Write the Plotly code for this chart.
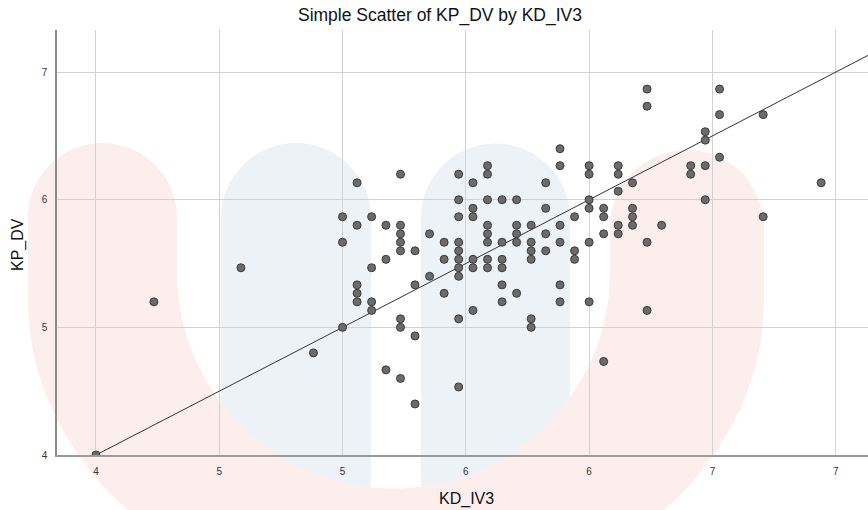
import numpy as np
import plotly.graph_objects as go

# ---------------- data ----------------
kd_iv3 = [
    4.000, 4.235, 4.588,
    5.059, 5.235, 5.471, 5.529, 5.471, 5.529, 5.000, 5.118, 5.471, 5.529,
    5.059, 5.176, 5.235, 5.235, 5.353, 5.235, 5.000, 5.412, 5.471, 5.235,
    5.294, 5.471, 5.176, 5.412, 5.471, 5.529, 5.118, 5.471, 5.529, 5.353, 5.471,
    5.059, 5.294, 5.059, 5.412, 5.059, 5.118, 5.118, 5.529, 5.235, 5.471,
    5.000, 5.235, 4.882, 5.294, 5.176, 5.235, 5.471, 5.294,
    6.235, 6.235, 6.529, 6.529, 6.706, 6.471, 6.471, 6.529, 5.882, 5.882,
    6.000, 6.000, 6.118, 6.118, 6.176, 6.118, 6.000, 6.412, 6.412, 6.471,
    6.471, 6.941,
    6.706, 6.294, 6.235, 6.235,
    5.588, 5.588, 5.824, 5.588, 5.647, 5.706, 5.824, 6.059, 6.000, 6.176,
    6.176, 6.059, 5.941, 5.588, 5.706, 5.765, 5.882, 6.118, 6.176, 5.588,
    5.706, 5.824, 6.059, 6.118, 5.588, 5.647, 5.706, 5.765, 5.882, 6.000,
    5.765, 5.824, 5.941, 5.588, 5.647, 5.765, 5.941, 5.588, 5.647,
    5.647, 5.882, 5.706, 5.647, 5.882, 6.000, 5.765, 5.765, 6.059,
]
kp_dv = [
    4.000, 5.200, 5.467,
    6.133, 6.200, 6.200, 6.133, 6.000, 5.933, 5.867, 5.867, 5.867, 5.867,
    5.800, 5.800, 5.800, 5.733, 5.733, 5.667, 5.667, 5.667, 5.667, 5.600,
    5.600, 5.600, 5.533, 5.533, 5.533, 5.533, 5.467, 5.467, 5.467, 5.400, 5.400,
    5.333, 5.333, 5.267, 5.267, 5.200, 5.200, 5.133, 5.133, 5.067, 5.067,
    5.000, 5.000, 4.800, 4.933, 4.667, 4.600, 4.533, 4.400,
    6.867, 6.733, 6.867, 6.667, 6.667, 6.533, 6.467, 6.333, 6.400, 6.267,
    6.267, 6.200, 6.267, 6.200, 6.133, 6.067, 6.000, 6.267, 6.200, 6.267,
    6.000, 6.133,
    5.867, 5.800, 5.667, 5.133,
    6.267, 6.200, 6.133, 6.000, 6.000, 6.000, 5.933, 5.933, 5.933, 5.933,
    5.867, 5.867, 5.867, 5.800, 5.800, 5.800, 5.800, 5.800, 5.800, 5.733,
    5.733, 5.733, 5.733, 5.733, 5.667, 5.667, 5.667, 5.667, 5.667, 5.667,
    5.600, 5.600, 5.600, 5.533, 5.533, 5.533, 5.533, 5.467, 5.467,
    5.333, 5.333, 5.267, 5.200, 5.200, 5.200, 5.067, 5.000, 4.733,
]
x_tickvals = [4.0, 4.5, 5.0, 5.5, 6.0, 6.5, 7.0]
x_ticktext = ["4", "5", "5", "6", "6", "7", "7"]
y_tickvals = [4, 5, 6, 7]
y_ticktext = ["4", "5", "6", "7"]
fit_slope = 1.0
fit_intercept = 0.0

# ---------------- layout geometry ----------------
W, H = 868, 510
ML, MR, MT, MB = 57, 0, 30, 55
x_range = [3.842, 7.131]
y_range = [4.0, 7.33]
PW = W - ML - MR
PH = H - MT - MB
FONT = "Liberation Sans, Arial, sans-serif"


def to_paper(pts):
    return [((px - ML) / PW, (H - MB - py) / PH) for px, py in pts]


def arc(cx, cy, rx, ry, a0, a1, n=60):
    t = np.linspace(a0, a1, n)
    return [(cx + rx * np.cos(a), cy + ry * np.sin(a)) for a in t]


def path_str(pts):
    pp = to_paper(pts)
    s = "M %.5f,%.5f " % pp[0]
    s += " ".join("L %.5f,%.5f" % p for p in pp[1:])
    return s + " Z"


# watermark (faint logo behind the plot)
blue1 = [(221, 540), (221, 218)] + arc(296, 218, 75, 75, np.pi, 2 * np.pi) + [(371, 540)]
blue2 = [(421, 540), (421, 218)] + arc(495.5, 218, 74.5, 74.5, np.pi, 2 * np.pi) + [(570, 540)]
red = ([(28, 300), (28, 217.5)]
       + arc(102.5, 217.5, 74.5, 74.5, np.pi, 2 * np.pi)
       + [(177, 272)]
       + arc(393.5, 272, 216.5, 216.5, np.pi, 0)
       + [(610, 227)]
       + arc(687, 227, 77, 77, np.pi, 2 * np.pi)
       + [(764, 300)]
       + arc(396, 300, 368, 307, 0, np.pi, 120))

BLUE = "rgb(237,242,247)"
PINK = "rgb(253,238,238)"
shapes = []
for pts, col in [(blue1, BLUE), (blue2, BLUE), (red, PINK)]:
    shapes.append(dict(type="path", path=path_str(pts), xref="paper", yref="paper",
                       fillcolor=col, line=dict(width=0), layer="below"))

fig = go.Figure()

fx = np.array(x_range)
fig.add_trace(go.Scatter(x=fx, y=fit_intercept + fit_slope * fx, mode="lines",
                         line=dict(color="#333333", width=1), hoverinfo="skip",
                         showlegend=False))

fig.add_trace(go.Scatter(x=kd_iv3, y=kp_dv, mode="markers",
                         marker=dict(size=8, color="#6b6b6b",
                                     line=dict(color="#3a3a3a", width=1)),
                         showlegend=False))

fig.update_layout(
    width=W, height=H,
    margin=dict(l=ML, r=MR, t=MT, b=MB, pad=0),
    paper_bgcolor="white", plot_bgcolor="rgba(0,0,0,0)",
    shapes=shapes,
    title=dict(text="Simple Scatter of KP_DV by KD_IV3", x=440 / W, xref="container",
               xanchor="center", y=1 - 15 / H, yref="container", yanchor="middle",
               font=dict(family=FONT, size=17.5, color="#111111")),
    font=dict(family=FONT),
    annotations=[
        dict(text="KD_IV3", x=(466 - ML) / PW, y=(H - MB - 499) / PH, xref="paper", yref="paper",
             showarrow=False, xanchor="center", yanchor="middle",
             font=dict(family=FONT, size=16, color="#111111")),
        dict(text="KP_DV", x=(18 - ML) / PW, y=(H - MB - 245) / PH, xref="paper", yref="paper",
             showarrow=False, xanchor="center", yanchor="middle", textangle=-90,
             font=dict(family=FONT, size=16, color="#111111")),
    ],
)
fig.update_xaxes(range=x_range, tickmode="array", tickvals=x_tickvals, ticktext=x_ticktext,
                 showgrid=True, gridcolor="#d2d2d2", gridwidth=1.3, zeroline=False,
                 showline=True, linecolor="#9a9a9a", linewidth=2, ticks="",
                 ticklabelstandoff=6,
                 tickfont=dict(family=FONT, size=10, color="#333333"))
fig.update_yaxes(range=y_range, tickmode="array", tickvals=y_tickvals, ticktext=y_ticktext,
                 showgrid=True, gridcolor="#d2d2d2", gridwidth=1.3, zeroline=False,
                 showline=True, linecolor="#8a8a8a", linewidth=1.5, ticks="",
                 ticklabelstandoff=6,
                 tickfont=dict(family=FONT, size=10, color="#333333"))

fig.write_html("out.html")
